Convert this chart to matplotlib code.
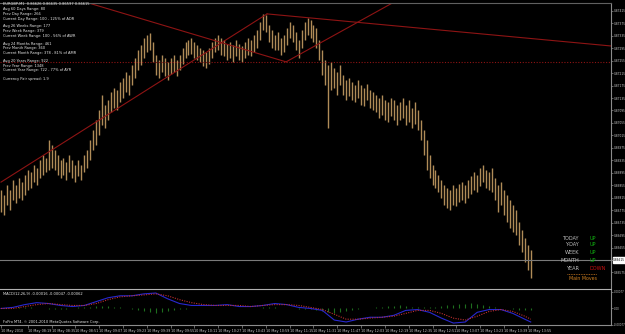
import matplotlib
matplotlib.use('Agg')
import matplotlib.pyplot as plt
import numpy as np

W, H = 625, 334

# ---------------- data ----------------
bar_high = [0.86840, 0.86824, 0.86856, 0.86840, 0.86872, 0.86856, 0.86878, 0.86865, 0.86888, 0.86904,
            0.86897, 0.86920, 0.86910, 0.86936, 0.86952, 0.86942, 0.87000, 0.86984, 0.86968, 0.86952,
            0.86936, 0.86942, 0.86930, 0.86952, 0.86936, 0.86920, 0.86936, 0.86920, 0.86952, 0.86968,
            0.87000, 0.87032, 0.87064, 0.87097, 0.87145, 0.87113, 0.87129, 0.87154, 0.87167, 0.87161,
            0.87186, 0.87199, 0.87219, 0.87209, 0.87241, 0.87263, 0.87289, 0.87305, 0.87328, 0.87337,
            0.87344, 0.87315, 0.87273, 0.87257, 0.87273, 0.87263, 0.87251, 0.87263, 0.87273, 0.87257,
            0.87273, 0.87296, 0.87315, 0.87321, 0.87328, 0.87315, 0.87305, 0.87296, 0.87289, 0.87283,
            0.87296, 0.87315, 0.87328, 0.87337, 0.87328, 0.87321, 0.87308, 0.87315, 0.87305, 0.87321,
            0.87308, 0.87302, 0.87315, 0.87328, 0.87321, 0.87337, 0.87353, 0.87379, 0.87405, 0.87401,
            0.87369, 0.87353, 0.87337, 0.87347, 0.87328, 0.87337, 0.87360, 0.87379, 0.87369, 0.87347,
            0.87321, 0.87353, 0.87379, 0.87392, 0.87385, 0.87369, 0.87360, 0.87321, 0.87289, 0.87257,
            0.87241, 0.87251, 0.87231, 0.87219, 0.87241, 0.87209, 0.87193, 0.87199, 0.87186, 0.87177,
            0.87193, 0.87177, 0.87167, 0.87180, 0.87161, 0.87154, 0.87145, 0.87135, 0.87145, 0.87129,
            0.87122, 0.87135, 0.87129, 0.87113, 0.87122, 0.87135, 0.87113, 0.87129, 0.87103, 0.87122,
            0.87097, 0.87064, 0.87032, 0.87000, 0.86952, 0.86920, 0.86904, 0.86888, 0.86872, 0.86856,
            0.86846, 0.86840, 0.86856, 0.86846, 0.86859, 0.86865, 0.86856, 0.86872, 0.86885, 0.86897,
            0.86888, 0.86910, 0.86920, 0.86904, 0.86897, 0.86910, 0.86878, 0.86856, 0.86865, 0.86840,
            0.86824, 0.86808, 0.86792, 0.86776, 0.86737, 0.86711, 0.86686, 0.86663, 0.86647]
bar_low = [0.86769, 0.86760, 0.86792, 0.86776, 0.86808, 0.86798, 0.86814, 0.86808, 0.86824, 0.86840,
           0.86846, 0.86865, 0.86856, 0.86878, 0.86888, 0.86897, 0.86904, 0.86910, 0.86904, 0.86888,
           0.86878, 0.86888, 0.86872, 0.86897, 0.86878, 0.86865, 0.86885, 0.86872, 0.86897, 0.86910,
           0.86936, 0.86968, 0.86984, 0.87016, 0.87048, 0.87039, 0.87064, 0.87090, 0.87103, 0.87097,
           0.87122, 0.87135, 0.87154, 0.87145, 0.87177, 0.87199, 0.87225, 0.87241, 0.87263, 0.87283,
           0.87289, 0.87251, 0.87209, 0.87199, 0.87219, 0.87206, 0.87193, 0.87212, 0.87219, 0.87206,
           0.87225, 0.87244, 0.87263, 0.87273, 0.87276, 0.87263, 0.87257, 0.87251, 0.87238, 0.87231,
           0.87244, 0.87263, 0.87283, 0.87289, 0.87273, 0.87270, 0.87257, 0.87263, 0.87251, 0.87270,
           0.87257, 0.87251, 0.87263, 0.87273, 0.87270, 0.87283, 0.87296, 0.87321, 0.87353, 0.87347,
           0.87315, 0.87296, 0.87289, 0.87289, 0.87273, 0.87283, 0.87305, 0.87328, 0.87315, 0.87289,
           0.87263, 0.87296, 0.87321, 0.87337, 0.87328, 0.87315, 0.87296, 0.87257, 0.87209, 0.87177,
           0.87039, 0.87161, 0.87167, 0.87145, 0.87177, 0.87145, 0.87129, 0.87141, 0.87129, 0.87122,
           0.87135, 0.87113, 0.87109, 0.87129, 0.87103, 0.87097, 0.87090, 0.87071, 0.87080, 0.87064,
           0.87058, 0.87077, 0.87064, 0.87048, 0.87064, 0.87071, 0.87048, 0.87058, 0.87039, 0.87052,
           0.87032, 0.87000, 0.86952, 0.86904, 0.86878, 0.86856, 0.86846, 0.86833, 0.86814, 0.86792,
           0.86782, 0.86776, 0.86792, 0.86788, 0.86801, 0.86808, 0.86798, 0.86814, 0.86827, 0.86840,
           0.86833, 0.86853, 0.86865, 0.86846, 0.86840, 0.86833, 0.86808, 0.86769, 0.86792, 0.86760,
           0.86737, 0.86718, 0.86705, 0.86695, 0.86663, 0.86641, 0.86609, 0.86583, 0.86557]

bid_price = 0.86615
diamond_level = 0.87251

# trend line anchors (bar index, price)
trend_lines = [
    [(0.0, 0.86865), (89.4, 0.87405)],
    [(25.9, 0.87450), (95.8, 0.87251)],
    [(95.8, 0.87251), (133.4, 0.87450)],
    [(89.4, 0.87405), (205.0, 0.87302)],
]

price_ticks = [0.87415, 0.87375, 0.87335, 0.87295, 0.87255, 0.87215, 0.87175, 0.87135, 0.87095,
               0.87055, 0.87015, 0.86975, 0.86935, 0.86895, 0.86855, 0.86815, 0.86775, 0.86735,
               0.86695, 0.86655, 0.86615, 0.86575]

time_labels = ["10 May 2010", "10 May 08:19", "10 May 08:35", "10 May 08:51", "10 May 09:07",
               "10 May 09:23", "10 May 09:39", "10 May 09:55", "10 May 10:11", "10 May 10:27",
               "10 May 10:43", "10 May 10:59", "10 May 11:15", "10 May 11:31", "10 May 11:47",
               "10 May 12:03", "10 May 12:19", "10 May 12:35", "10 May 12:51", "10 May 13:07",
               "10 May 13:23", "10 May 13:39", "10 May 13:55"]
time_label_bars = [0, 9, 17, 25, 33, 41, 49, 57, 65, 73, 81, 89, 97, 105, 113, 121, 129, 137,
                   145, 153, 161, 169, 177]

macd_bars = [0, 4, 8, 12, 16, 20, 24, 28, 32, 36, 40, 44, 48, 52, 56, 60, 64, 68, 72, 76, 80, 84,
             88, 92, 96, 100, 104, 108, 112, 116, 120, 124, 128, 132, 136, 140, 144, 148, 152, 156,
             160, 164, 168, 172, 176, 178]
macd_main = [0.0, 0.00005, 0.00018, 0.00027, 0.00023, 0.00014, 0.00009, 0.00014, 0.00032, 0.00050,
             0.00059, 0.00059, 0.00068, 0.00072, 0.00045, 0.00023, 0.00014, 0.00014, 0.00014, 0.00018,
             0.00009, 0.00009, 0.00014, 0.00023, 0.00018, 0.00005, 0.0, -0.00009, -0.00054, -0.00063,
             -0.00050, -0.00041, -0.00041, -0.00032, -0.00009, -0.00005, -0.00018, -0.00045, -0.00068,
             -0.00063, -0.00018, -0.00005, -0.00005, -0.00023, -0.00050, -0.00063]
macd_signal = [0.0, 0.0, 0.00009, 0.00018, 0.00023, 0.00018, 0.00014, 0.00014, 0.00023, 0.00041,
               0.00054, 0.00059, 0.00063, 0.00068, 0.00059, 0.00041, 0.00027, 0.00018, 0.00014, 0.00014,
               0.00014, 0.00009, 0.00014, 0.00018, 0.00018, 0.00014, 0.00005, -0.00005, -0.00027, -0.00050,
               -0.00050, -0.00045, -0.00041, -0.00036, -0.00023, -0.00009, -0.00009, -0.00023, -0.00045,
               -0.00054, -0.00036, -0.00014, -0.00005, -0.00014, -0.00036, -0.00050]
macd_hist = [0.00002, 0.00003, 0.00004, 0.00005, 0.00006, 0.00005, 0.00003, 0.00001, -0.00002, -0.00004,
             -0.00004, -0.00003, 0.00002, 0.00005, 0.00007, 0.00009, 0.00011, 0.00012, 0.00010, 0.00008,
             0.00005, 0.00002, -0.00004, -0.00009, -0.00014, -0.00018, -0.00020, -0.00016, -0.00011, -0.00007,
             -0.00004, -0.00002, 0.00001, 0.00002, 0.00003, 0.00003, 0.00002, 0.00001, 0.00002, 0.00003,
             0.00002, 0.00001, 0.00002, 0.00004, 0.00005, 0.00006, 0.00005, 0.00003, 0.00002, 0.00001,
             -0.00001, -0.00002, -0.00004, -0.00008, -0.00013, -0.00018, -0.00021, -0.00017, -0.00011, -0.00006,
             -0.00002, 0.00002, 0.00004, 0.00006, 0.00008, 0.00011, 0.00013, 0.00014, 0.00012, 0.00009,
             0.00006, 0.00005, 0.00007, 0.00009, 0.00012, 0.00015, 0.00018, 0.00021, 0.00023, 0.00024,
             0.00022, 0.00018, 0.00013, 0.00008, 0.00004, 0.00001, -0.00002, -0.00005, -0.00007, -0.00008]
macd_ticks = [0.00077, 0.0, -0.00077]
macd_tick_labels = ["0.00077", "0.00", "-0.00077"]

info_lines = ["EURGBP,M1  0.86626 0.86635 0.86597 0.86615",
              "Avg 60 Days Range: 80", "Prev Day Range: 266", "Current Day Range: 100 - 125% of ADR",
              "Avg 26 Weeks Range: 177", "Prev Week Range: 379", "Current Week Range: 100 - 56% of AWR",
              "Avg 24 Months Range: 461", "Prev Month Range: 360", "Current Month Range: 378 - 81% of AMR",
              "Avg 20 Years Range: 922", "Prev Year Range: 1348", "Current Year Range: 722 - 77% of AYR",
              "Currency Pair spread: 1.9"]
info_y = [4, 9, 14, 19, 26, 31, 36, 44, 48, 53, 61, 66, 70, 79]

moves_labels = ["TODAY", "Y-DAY", "WEEK", "MONTH", "YEAR"]
moves_state = ["UP", "UP", "UP", "UP", "DOWN"]

# ---------------- layout ----------------
BG = 'black'
BAR_C = '#B08C58'
LINE_RED = '#8E1414'
AX_C = '#8C8C8C'
TXT = '#C8C8C8'

px = 2.976           # pixels per bar
x_left = -1 / px
x_right = x_left + 611 / px

fig = plt.figure(figsize=(W / 100, H / 100), dpi=100, facecolor=BG)

def rect(x0, y0, x1, y1):
    return [x0 / W, 1 - y1 / H, (x1 - x0) / W, (y1 - y0) / H]

ax = fig.add_axes(rect(0, 3, 611, 288), facecolor=BG)
ax.set_xlim(x_left, x_right)
ax.set_ylim(0.86525, 0.87440)
for s in ax.spines.values():
    s.set_visible(False)
ax.spines['right'].set_visible(True)
ax.spines['right'].set_color(AX_C)
ax.spines['right'].set_linewidth(0.8)
ax.spines['top'].set_visible(True)
ax.spines['top'].set_color('#606060')
ax.spines['top'].set_linewidth(0.8)
ax.set_xticks([])
ax.yaxis.tick_right()
ax.set_yticks(price_ticks)
ax.set_yticklabels([f"{p:.5f}" for p in price_ticks])
ax.tick_params(axis='y', colors=AX_C, labelcolor=TXT, labelsize=2.1, length=1.5, width=0.5, pad=0.6)

n = len(bar_high)
xs = np.arange(n)
ax.vlines(xs, bar_low, bar_high, color=BAR_C, lw=1.0)

for (a, b) in trend_lines:
    ax.plot([a[0], b[0]], [a[1], b[1]], color=LINE_RED, lw=0.8, clip_on=True)
ax.axhline(diamond_level, color=LINE_RED, lw=0.8, ls=(0, (1, 1.5)))
ax.axhline(bid_price, color='#7A7A7A', lw=0.8)

# highlighted bid label
ax.annotate(f"{bid_price:.5f}", xy=(1.0, bid_price), xycoords=('axes fraction', 'data'),
            xytext=(1.6, 0), textcoords='offset points', fontsize=2.1, color='black', va='center',
            ha='left', annotation_clip=False,
            bbox=dict(boxstyle='square,pad=0.2', fc='white', ec='white'))

# info text
for t, yy in zip(info_lines, info_y):
    fig.text(3 / W, 1 - yy / H, t, color='#E6E6E6', fontsize=2.6, va='center', ha='left')

# main moves panel
mv_y = [238, 245, 253, 260, 268]
for lab, st, yy in zip(moves_labels, moves_state, mv_y):
    fig.text(579 / W, 1 - yy / H, lab, color='#BEBEBE', fontsize=3.6, va='center', ha='right')
    fig.text(590 / W, 1 - yy / H, st, color='#10B010' if st == 'UP' else '#C81010',
             fontsize=3.6, va='center', ha='left')
fig.lines.append(plt.Line2D([567 / W, 597 / W], [1 - 274 / H, 1 - 274 / H], transform=fig.transFigure,
                            color='#C87820', lw=0.6, ls=(0, (1, 1))))
fig.text(583 / W, 1 - 278.5 / H, "Main Moves", color='#D08020', fontsize=3.4, va='center', ha='center')

# separator
fig.lines.append(plt.Line2D([0, 611 / W], [1 - 288.5 / H, 1 - 288.5 / H], transform=fig.transFigure,
                            color='#B0B0B0', lw=0.8))

# ---------------- MACD ----------------
mx = fig.add_axes(rect(0, 290, 611, 325), facecolor=BG)
mx.set_xlim(x_left, x_right)
mx.set_ylim(-0.00077, 0.00086)
for s in mx.spines.values():
    s.set_visible(False)
mx.spines['right'].set_visible(True)
mx.spines['right'].set_color(AX_C)
mx.spines['right'].set_linewidth(0.8)
mx.spines['bottom'].set_visible(True)
mx.spines['bottom'].set_color(AX_C)
mx.spines['bottom'].set_linewidth(0.8)
mx.yaxis.tick_right()
mx.set_yticks(macd_ticks)
mx.set_yticklabels(macd_tick_labels)
mx.tick_params(axis='y', colors=AX_C, labelcolor=TXT, labelsize=1.9, length=1.5, width=0.5, pad=0.5)
mx.set_xticks(time_label_bars)
mx.set_xticklabels(time_labels, ha='left')
mx.tick_params(axis='x', colors=AX_C, labelcolor=TXT, labelsize=2.4, length=2, width=0.5, pad=1)

hist_bars = np.arange(0, n, 2)
mx.vlines(hist_bars, 0, macd_hist, color='#1E6E1E', lw=0.8)
mx.plot(macd_bars, macd_main, color='#2828D0', lw=0.8)
mx.plot(macd_bars, macd_signal, color='#C03030', lw=0.8, ls=(0, (1, 1.2)))

fig.text(3 / W, 1 - 294 / H, "MACD(12,26,9) -0.00016 -0.00047 -0.00062", color='#E6E6E6',
         fontsize=2.6, va='center', ha='left')
fig.text(3 / W, 1 - 322.5 / H, "FxPro MT4, \u00a9 2001-2010 MetaQuotes Software Corp.", color='#E6E6E6',
         fontsize=2.6, va='center', ha='left')

fig.savefig('out.png', dpi=100, facecolor=BG)
